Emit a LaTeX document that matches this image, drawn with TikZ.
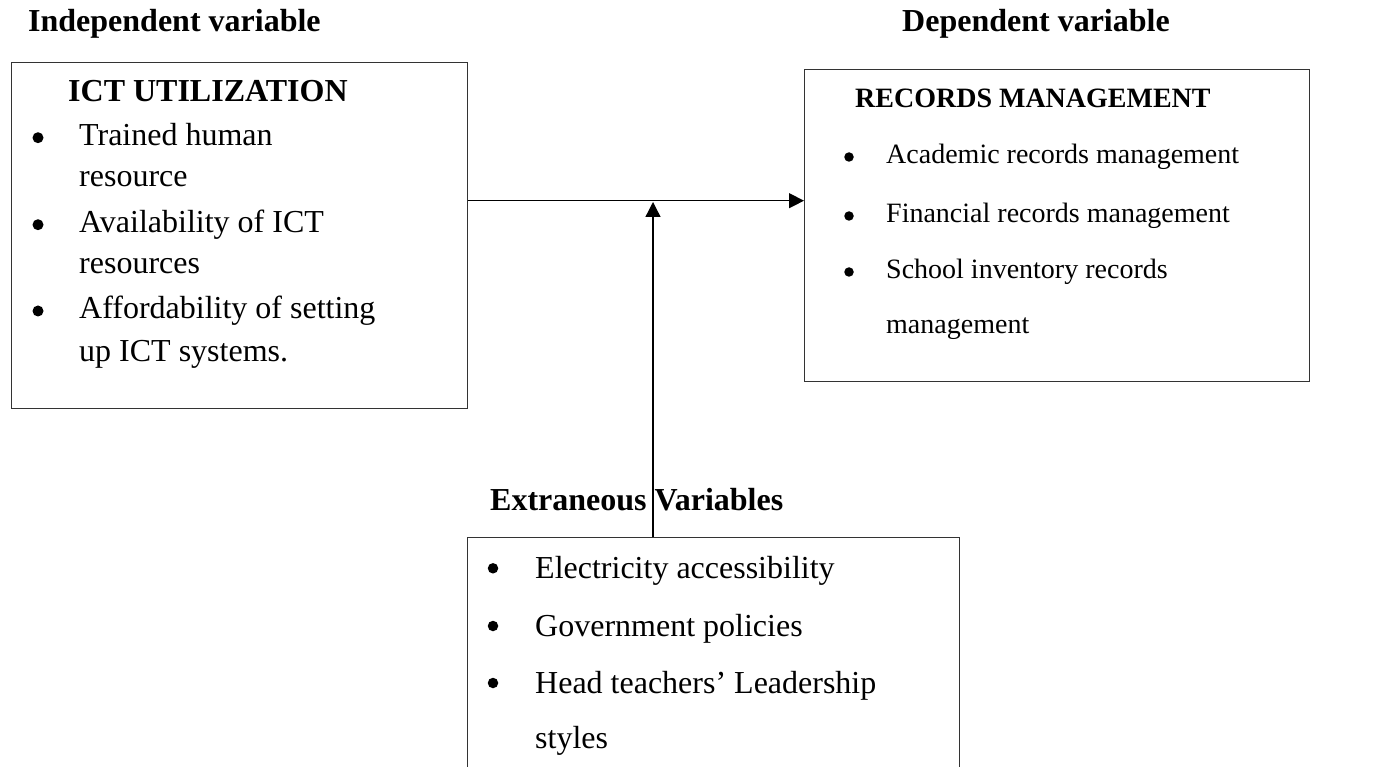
\documentclass[tikz,border=0pt]{standalone}
\usepackage{fontspec}
\setmainfont{Liberation Serif}
\usetikzlibrary{arrows.meta}
\begin{document}
\begin{tikzpicture}[x=1pt,y=-1pt,
  frame/.style={draw=black!80, line width=1.2pt, rectangle, inner sep=0pt, anchor=north west},
  txt/.style={anchor=base west, inner sep=0pt, font=\fontsize{32}{38}\selectfont},
  smalltxt/.style={anchor=base west, inner sep=0pt, font=\fontsize{28}{34}\selectfont},
  head/.style={anchor=base west, inner sep=0pt, font=\fontsize{32}{38}\selectfont\bfseries},
  smallhead/.style={anchor=base west, inner sep=0pt, font=\fontsize{28}{34}\selectfont\bfseries},
  bul/.style={circle, fill=black, inner sep=0pt, minimum size=#1},
  link/.style={line width=1.3pt, -{Triangle[length=15pt,width=15pt]}}
]
\useasboundingbox (0,0) rectangle (1387,767);
\clip (0,0) rectangle (1387,767);

% column headers
\node[head] (hind) at (28,32) {Independent variable};
\node[head] (hdep) at (902,32) {Dependent variable};
\node[head] (hext) at (490,510) {Extraneous Variables};

% boxes
\node[frame, minimum width=456pt, minimum height=346pt] (ict) at (11,62) {};
\node[frame, minimum width=505pt, minimum height=312pt] (rec) at (804,69) {};
\node[frame, minimum width=492pt, minimum height=270pt] (ext) at (467,537) {};

% independent variable box
\node[head] (ictt) at (68,101.7) {ICT UTILIZATION};
\node[bul=11pt] (b1) at (38,137.7) {};
\node[txt] (i1a) at (79,145.7) {Trained human};
\node[txt] (i1b) at (79,187) {resource};
\node[bul=11pt] (b2) at (38,224.7) {};
\node[txt] (i2a) at (79,232.7) {Availability of ICT};
\node[txt] (i2b) at (79,274) {resources};
\node[bul=11pt] (b3) at (38,311) {};
\node[txt] (i3a) at (79,319) {Affordability of setting};
\node[txt] (i3b) at (79,362) {up ICT systems.};

% dependent variable box
\node[smallhead] (rect) at (855,108) {RECORDS MANAGEMENT};
\node[bul=9.5pt] (r1) at (849,157) {};
\node[smalltxt] (d1) at (886,164) {Academic records management};
\node[bul=9.5pt] (r2) at (849,216) {};
\node[smalltxt] (d2) at (886,223) {Financial records management};
\node[bul=9.5pt] (r3) at (849,272) {};
\node[smalltxt] (d3a) at (886,279) {School inventory records};
\node[smalltxt] (d3b) at (886,334) {management};

% extraneous variables box
\node[bul=10.5pt] (e1b) at (493,568.3) {};
\node[txt] (e1) at (535,578.3) {Electricity accessibility};
\node[bul=10.5pt] (e2b) at (493,626) {};
\node[txt] (e2) at (535,636) {Government policies};
\node[bul=10.5pt] (e3b) at (493,683) {};
\node[txt] (e3a) at (535,693) {Head teachers’ Leadership};
\node[txt] (e3b) at (535,748) {styles};

% connectors
\coordinate (j) at (653,200.7);
\draw[link] (ict.east |- j) -- (rec.west |- j);
\draw[link, shorten >=1.3pt] (ext.north -| j) -- (j);
\end{tikzpicture}
\end{document}
